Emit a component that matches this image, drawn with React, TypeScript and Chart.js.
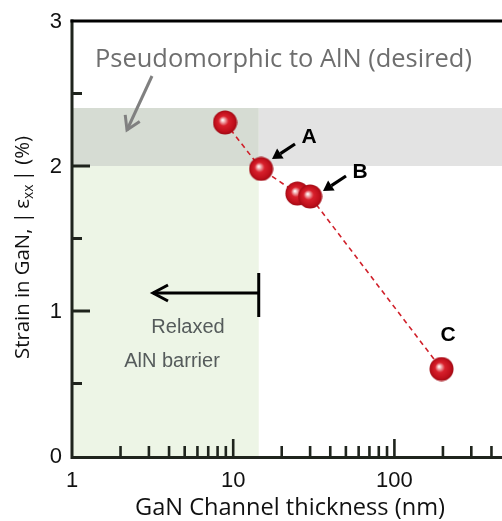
import React, { useEffect, useRef } from "react";
import { Chart, registerables } from "chart.js";

Chart.register(...registerables);

const thickness = [8.9, 14.9, 25, 30, 196];
const strain = [2.3, 1.98, 1.81, 1.79, 0.6];
const yTickLabels = [0, 1, 2, 3];
const yMinorTicks = [0.5, 1.5, 2.5];
const xMajorTicks = [1, 10, 100];
const xMinorTicks = [2, 3, 4, 5, 6, 7, 8, 9, 20, 30, 40, 50, 60, 70, 80, 90, 200, 300, 400];
const pointLabels = ["", "A", "B", "", "C"];
const relaxedLimit = 14.4;
const bandLow = 2.0;
const bandHigh = 2.4;

function makeSphere(): HTMLCanvasElement {
  const s = 25;
  const c = document.createElement("canvas");
  c.width = s;
  c.height = s;
  const g = c.getContext("2d")!;
  const r = 12;
  const cx = s / 2, cy = s / 2;
  const grad = g.createRadialGradient(cx - 2.5, cy - 2.5, 0.3, cx, cy, r);
  grad.addColorStop(0, "#ffffff");
  grad.addColorStop(0.1, "#f6caca");
  grad.addColorStop(0.4, "#d8202c");
  grad.addColorStop(0.8, "#c0101c");
  grad.addColorStop(1, "#a00a14");
  g.fillStyle = grad;
  g.beginPath();
  g.arc(cx, cy, r, 0, Math.PI * 2);
  g.fill();
  return c;
}

function fitFont(ctx: CanvasRenderingContext2D, text: string, family: string, weight: string, width: number) {
  ctx.font = `${weight} 100px ${family}`;
  const w = ctx.measureText(text).width;
  const size = (100 * width) / w;
  ctx.font = `${weight} ${size.toFixed(2)}px ${family}`;
}

function arrowFilled(ctx: CanvasRenderingContext2D, x1: number, y1: number, x2: number, y2: number, color: string) {
  const ang = Math.atan2(y2 - y1, x2 - x1);
  const hl = 10, hw = 6;
  const bx = x2 - hl * Math.cos(ang), by = y2 - hl * Math.sin(ang);
  ctx.strokeStyle = color;
  ctx.fillStyle = color;
  ctx.lineWidth = 3.2;
  ctx.beginPath();
  ctx.moveTo(x1, y1);
  ctx.lineTo(bx, by);
  ctx.stroke();
  ctx.beginPath();
  ctx.moveTo(x2, y2);
  ctx.lineTo(bx + hw * Math.sin(ang), by - hw * Math.cos(ang));
  ctx.lineTo(bx - hw * Math.sin(ang), by + hw * Math.cos(ang));
  ctx.closePath();
  ctx.fill();
}

function arrowOpen(ctx: CanvasRenderingContext2D, x1: number, y1: number, x2: number, y2: number, color: string, width: number, hl: number, hw: number) {
  const ang = Math.atan2(y2 - y1, x2 - x1);
  ctx.strokeStyle = color;
  ctx.lineWidth = width;
  ctx.lineCap = "butt";
  ctx.beginPath();
  ctx.moveTo(x1, y1);
  ctx.lineTo(x2, y2);
  ctx.stroke();
  const bx = x2 - hl * Math.cos(ang), by = y2 - hl * Math.sin(ang);
  ctx.beginPath();
  ctx.moveTo(bx + hw * Math.sin(ang), by - hw * Math.cos(ang));
  ctx.lineTo(x2, y2);
  ctx.lineTo(bx - hw * Math.sin(ang), by + hw * Math.cos(ang));
  ctx.stroke();
}

const decorPlugin = {
  id: "decor",
  beforeDatasetsDraw(chart: any) {
    const { ctx, chartArea: ca, scales } = chart;
    const xs = scales.x, ys = scales.y;
    const xr = xs.getPixelForValue(relaxedLimit);
    const yl = ys.getPixelForValue(bandLow);
    const yh = ys.getPixelForValue(bandHigh);
    const y0 = ys.getPixelForValue(0);
    ctx.save();
    ctx.fillStyle = "#edf5e6";
    ctx.fillRect(ca.left, yl, xr - ca.left, y0 - yl);
    ctx.fillStyle = "#e3e3e3";
    ctx.fillRect(xr, yh, ca.right - xr, yl - yh);
    ctx.fillStyle = "#d6dcd3";
    ctx.fillRect(ca.left, yh, xr - ca.left, yl - yh);
    ctx.restore();
  },
  afterDatasetsDraw(chart: any) {
    const { ctx, chartArea: ca, scales } = chart;
    const xs = scales.x, ys = scales.y;
    ctx.save();
    // axes
    ctx.strokeStyle = "#1f241d";
    ctx.lineWidth = 3;
    ctx.lineCap = "butt";
    ctx.beginPath();
    ctx.moveTo(ca.left, ca.top - 1.5);
    ctx.lineTo(ca.left, ca.bottom + 1.5);
    ctx.lineTo(ca.right, ca.bottom + 1.5);
    ctx.stroke();
    ctx.strokeStyle = "#000";
    ctx.beginPath();
    ctx.moveTo(ca.left - 1.5, ca.top);
    ctx.lineTo(ca.right, ca.top);
    ctx.stroke();
    // y ticks
    ctx.strokeStyle = "#1f241d";
    for (const v of yTickLabels) {
      if (v === 0 || v === 3) continue;
      const y = ys.getPixelForValue(v);
      ctx.beginPath();
      ctx.moveTo(ca.left, y);
      ctx.lineTo(ca.left + 18, y);
      ctx.stroke();
    }
    for (const v of yMinorTicks) {
      const y = ys.getPixelForValue(v);
      ctx.beginPath();
      ctx.moveTo(ca.left, y);
      ctx.lineTo(ca.left + 10, y);
      ctx.stroke();
    }
    // x ticks
    ctx.lineWidth = 2.6;
    for (const v of xMajorTicks) {
      if (v === 1) continue;
      const x = xs.getPixelForValue(v);
      ctx.beginPath();
      ctx.moveTo(x, ca.bottom);
      ctx.lineTo(x, ca.bottom - 17);
      ctx.stroke();
    }
    for (const v of xMinorTicks) {
      const x = xs.getPixelForValue(v);
      ctx.beginPath();
      ctx.moveTo(x, ca.bottom);
      ctx.lineTo(x, ca.bottom - 10);
      ctx.stroke();
    }
    // tick labels
    ctx.fillStyle = "#111";
    ctx.font = "22px 'Liberation Sans', Arial, sans-serif";
    ctx.textAlign = "right";
    ctx.textBaseline = "middle";
    for (const v of yTickLabels) {
      ctx.fillText(String(v), ca.left - 10, ys.getPixelForValue(v) + 1);
    }
    ctx.textAlign = "center";
    ctx.textBaseline = "alphabetic";
    for (const v of xMajorTicks) {
      ctx.fillText(String(v), xs.getPixelForValue(v), 487);
    }
    // x title
    ctx.fillStyle = "#111";
    ctx.textAlign = "left";
    fitFont(ctx, "GaN Channel thickness (nm)", "'Open Sans', sans-serif", "normal", 310);
    ctx.fillText("GaN Channel thickness (nm)", 135, 515);
    // y title (rotated, with subscript)
    ctx.save();
    ctx.translate(29, 359);
    ctx.rotate(-Math.PI / 2);
    const fam = "'Open Sans', sans-serif";
    const parts: [string, number, number][] = [
      ["Strain in GaN, |\u2009\u03b5", 1, 0],
      ["xx", 0.68, 4],
      ["\u2009| (%)", 1, 0],
    ];
    const measure = (s: number) => {
      let w = 0;
      for (const [t, k] of parts) {
        ctx.font = `${(s * k).toFixed(2)}px ${fam}`;
        w += ctx.measureText(t).width;
      }
      return w;
    };
    const base = (100 * 223) / measure(100);
    let tx = 0;
    ctx.fillStyle = "#111";
    for (const [t, k, dy] of parts) {
      ctx.font = `${(base * k).toFixed(2)}px ${fam}`;
      ctx.fillText(t, tx, dy);
      tx += ctx.measureText(t).width;
    }
    ctx.restore();
    // pseudomorphic text + arrow
    ctx.fillStyle = "#6e6e6e";
    fitFont(ctx, "Pseudomorphic to AlN (desired)", "'Open Sans', sans-serif", "normal", 377);
    ctx.fillText("Pseudomorphic to AlN (desired)", 95, 67);
    arrowOpen(ctx, 152, 76, 127, 130, "#808080", 3, 13, 8);
    // relaxed arrow
    const xr = xs.getPixelForValue(relaxedLimit);
    ctx.strokeStyle = "#000";
    ctx.lineWidth = 3;
    ctx.beginPath();
    ctx.moveTo(xr, 273);
    ctx.lineTo(xr, 317);
    ctx.stroke();
    arrowOpen(ctx, xr, 293, 153, 293, "#000", 3, 15, 8);
    ctx.fillStyle = "#555b5b";
    ctx.font = "20px 'Liberation Sans', Arial, sans-serif";
    ctx.textAlign = "center";
    ctx.fillText("Relaxed", 188, 333);
    ctx.fillText("AlN barrier", 172, 367);
    // point labels and arrows
    ctx.fillStyle = "#000";
    ctx.font = "bold 21px 'Liberation Sans', Arial, sans-serif";
    const lblPos: Record<string, [number, number]> = { A: [309, 143], B: [360, 178], C: [448, 341] };
    pointLabels.forEach((l) => {
      if (!l) return;
      const p = lblPos[l];
      ctx.fillText(l, p[0], p[1]);
    });
    arrowFilled(ctx, 295, 144, 272, 159, "#000");
    arrowFilled(ctx, 346, 176, 323, 191, "#000");
    ctx.restore();
  },
};

export default function App() {
  const ref = useRef<HTMLCanvasElement>(null);
  useEffect(() => {
    document.body.style.margin = "0";
    const sphere = makeSphere();
    const fixPad = (s: any) => {
      s.paddingLeft = 0;
      s.paddingRight = 0;
      s.paddingTop = 0;
      s.paddingBottom = 0;
    };
    const chart = new Chart(ref.current!, {
      type: "scatter",
      data: {
        datasets: [
          {
            data: thickness.map((x, i) => ({ x, y: strain[i] })),
            showLine: true,
            borderColor: "#d0202a",
            borderWidth: 1.6,
            borderDash: [5, 4],
            pointStyle: sphere,
            pointRadius: 12,
            pointHoverRadius: 12,
            clip: false,
          },
        ],
      },
      options: {
        responsive: false,
        animation: false,
        events: [],
        layout: { autoPadding: false, padding: { top: 21, right: 0, left: 0, bottom: 0 } },
        plugins: { legend: { display: false }, tooltip: { enabled: false } },
        scales: {
          x: {
            type: "logarithmic",
            min: 1,
            max: 465,
            grid: { display: false },
            border: { display: false },
            ticks: { display: false },
            afterFit: (s: any) => {
              s.height = 65;
              fixPad(s);
            },
          },
          y: {
            type: "linear",
            min: 0,
            max: 3,
            grid: { display: false },
            border: { display: false },
            ticks: { display: false },
            afterFit: (s: any) => {
              s.width = 72;
              fixPad(s);
            },
          },
        },
      },
      plugins: [decorPlugin],
    });
    return () => chart.destroy();
  }, []);
  return <canvas ref={ref} width={502} height={521} style={{ display: "block" }} />;
}
